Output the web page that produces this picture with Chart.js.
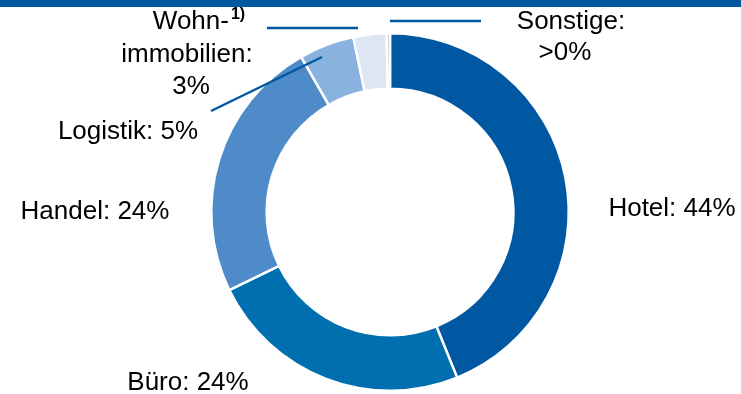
<!DOCTYPE html>
<html>
<head>
<meta charset="utf-8">
<script src="https://cdn.jsdelivr.net/npm/chart.js@4.4.0/dist/chart.umd.min.js"></script>
<style>
  html, body { margin: 0; padding: 0; background: #fff; }
  #wrap { position: relative; width: 741px; height: 394px; }
  #bar { position: absolute; left: 0; top: 0; width: 741px; height: 7px; background: #0057a2; }
</style>
</head>
<body>
<div id="wrap">
  <canvas id="donut" width="741" height="394"></canvas>
  <div id="bar"></div>
</div>
<script>
// Nutzungsarten (Anteile in %)
const categories = ["Hotel", "Büro", "Handel", "Logistik", "Wohnimmobilien", "Sonstige"];
const shares = [44, 24, 24, 5, 3, 0.3];
const shareLabels = ["44%", "24%", "24%", "5%", "3%", ">0%"];
const sliceColors = ["#0057a2", "#006fb0", "#4e8bc8", "#89b2de", "#dce6f4", "#bdbdbd"];

// label text lines per category (Wohn- gets the footnote)
const labelLines = [
  ["Hotel: " + shareLabels[0]],
  ["Büro: " + shareLabels[1]],
  ["Handel: " + shareLabels[2]],
  ["Logistik: " + shareLabels[3]],
  ["Wohn-", "immobilien:", shareLabels[4]],
  ["Sonstige:", shareLabels[5]]
];

// where to put the labels (x center, y center of each line)
const labelPos = [
  [[672, 209]],
  [[188, 383]],
  [[95, 212]],
  [[128, 132]],
  [[199, 22], [187, 55], [191, 87]],
  [[571, 22], [565, 53]]
];
const leaders = [
  [211, 111, 322, 57],
  [267, 28, 358, 28],
  [390, 21, 481, 21]
];

const labelsPlugin = {
  id: "labels",
  afterDraw(chart) {
    const ctx = chart.ctx;
    const big = "26px 'Liberation Sans', Arial, sans-serif";
    const small = "bold 16px 'Liberation Sans', Arial, sans-serif";
    ctx.save();
    ctx.strokeStyle = "#0057a2";
    ctx.lineWidth = 2.5;
    leaders.forEach(l => {
      ctx.beginPath();
      ctx.moveTo(l[0], l[1]);
      ctx.lineTo(l[2], l[3]);
      ctx.stroke();
    });
    ctx.fillStyle = "#000";
    ctx.textBaseline = "middle";
    ctx.textAlign = "center";
    ctx.font = big;
    labelLines.forEach((lines, i) => {
      lines.forEach((txt, j) => {
        const p = labelPos[i][j];
        if (i == 4 && j == 0) {
          // Wohn- with superscript 1)
          const w1 = ctx.measureText(txt).width;
          ctx.font = small;
          const w2 = ctx.measureText("1)").width;
          const x0 = p[0] - (w1 + w2 + 2) / 2;
          ctx.textAlign = "left";
          ctx.font = big;
          ctx.fillText(txt, x0, p[1]);
          ctx.font = small;
          ctx.fillText("1)", x0 + w1 + 2, p[1] - 7);
          ctx.textAlign = "center";
          ctx.font = big;
        } else {
          ctx.fillText(txt, p[0], p[1]);
        }
      });
    });
    ctx.restore();
  }
};

new Chart(document.getElementById("donut"), {
  type: "doughnut",
  data: {
    labels: categories,
    datasets: [{
      data: shares,
      backgroundColor: sliceColors,
      borderColor: "#ffffff",
      borderWidth: 2.5
    }]
  },
  options: {
    responsive: false,
    animation: false,
    cutout: "69%",
    layout: { padding: { top: 32, bottom: 2, left: 39, right: 0 } },
    plugins: {
      legend: { display: false },
      tooltip: { enabled: false }
    },
    events: []
  },
  plugins: [labelsPlugin]
});
</script>
</body>
</html>
